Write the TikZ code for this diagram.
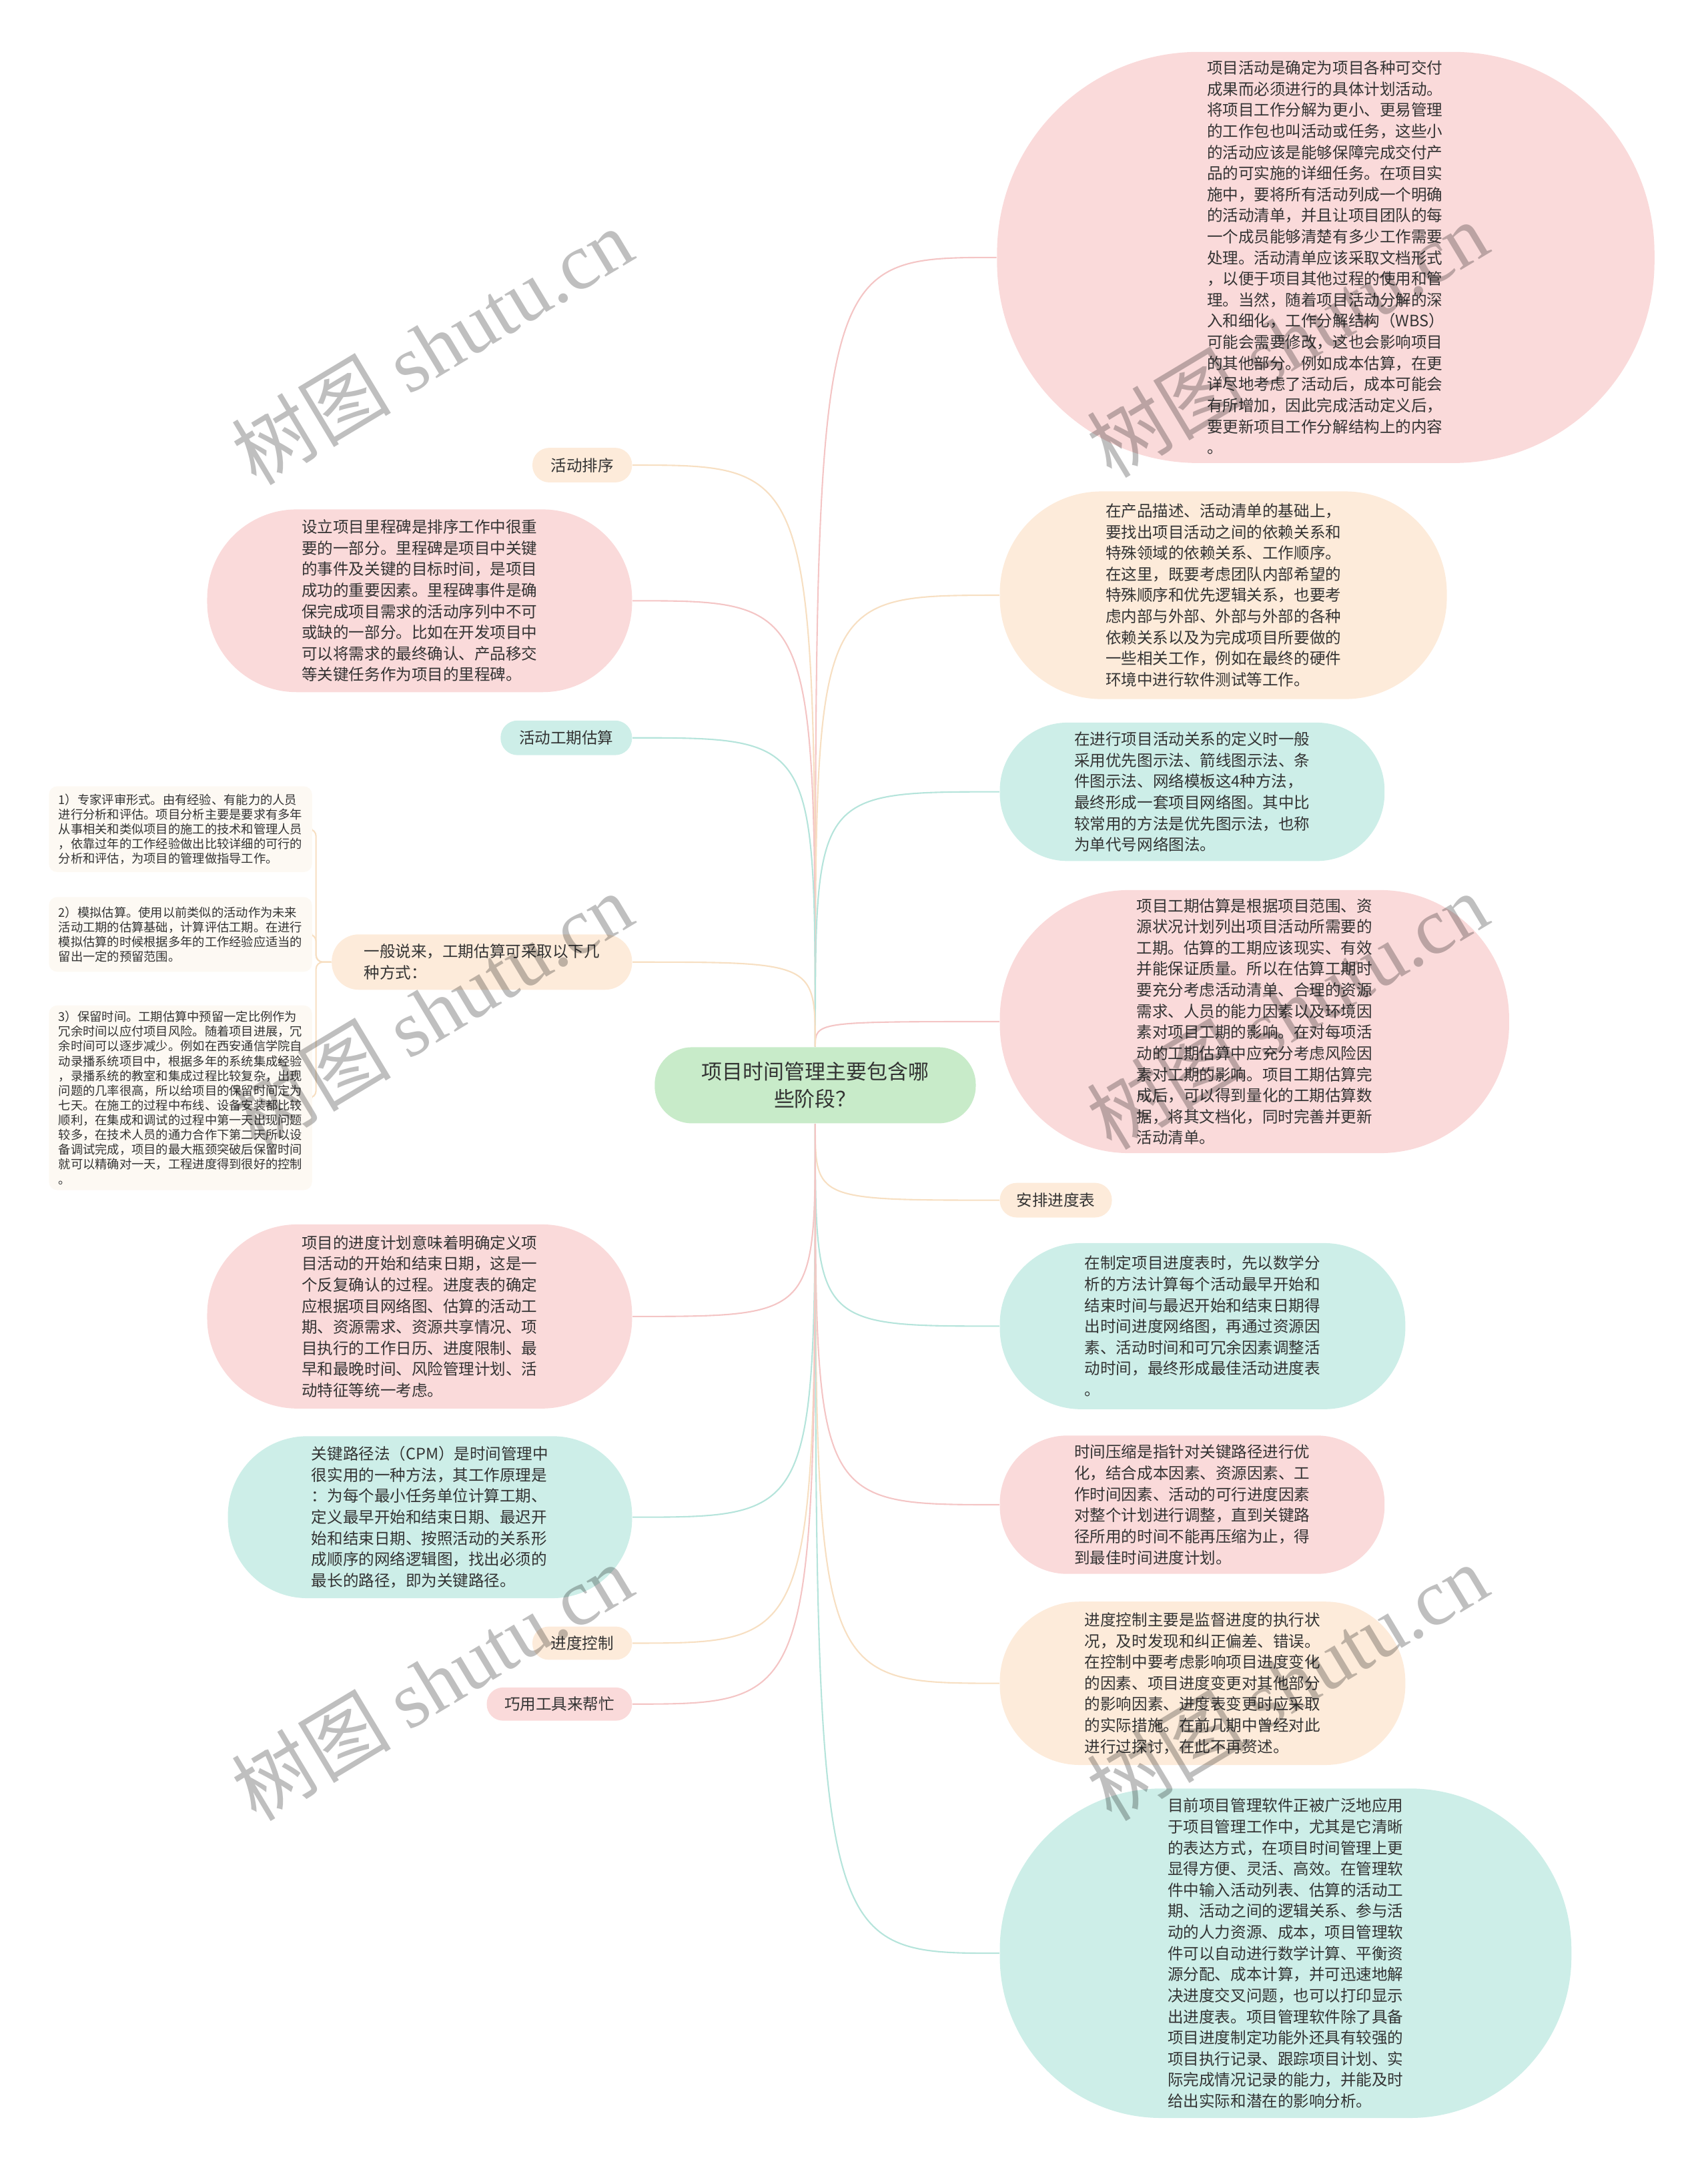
\documentclass[tikz,border=0pt]{standalone}
\usepackage{fontspec}
\setmainfont{Noto Sans CJK SC}
\newfontfamily\wmlatin{Liberation Serif}
\usetikzlibrary{positioning,backgrounds}

\newdimen\pxu
\pxu=0.0207455cm

\definecolor{ink}{HTML}{333333}
\definecolor{greenfill}{HTML}{C8EBC9}
\definecolor{pinkfill}{HTML}{FADADA}
\definecolor{peachfill}{HTML}{FDEBDA}
\definecolor{tealfill}{HTML}{CDEEE8}
\definecolor{notefill}{HTML}{FDF9F3}
\definecolor{pinkline}{HTML}{F4C5C5}
\definecolor{peachline}{HTML}{F7DFC2}
\definecolor{tealline}{HTML}{B5E4DB}

\tikzset{pill/.style 2 args = {rectangle, text=ink, inner sep=0pt, minimum width=#1*\pxu, minimum height=#2*\pxu, rounded corners=0.49*#2*\pxu},
         topic/.style = {pill={232}{55}, fill=greenfill, align=center, font=\fontsize{8.8}{11.8}\selectfont},
         bubble/.style = {align=left, font=\fontsize{6.7}{9}\selectfont},
         tag/.style = {font=\fontsize{6.7}{9}\selectfont},
         note/.style = {rectangle, rounded corners=6*\pxu, fill=notefill, text=ink, align=left, inner xsep=7*\pxu, inner ysep=4*\pxu, minimum width=187*\pxu, font=\fontsize{5.2}{6.3}\selectfont},
         link/.style = {line width=0.6pt},
         stamp/.style = {rotate=31, text=black, text opacity=0.25, font=\fontsize{34}{34}\selectfont},
}

\begin{document}
\begin{tikzpicture}[x=0.0207455cm, y=-0.0207455cm]
  \useasboundingbox (0,0) rectangle (1234,1567.6);

  \node[topic] (centre) at (589,784) {项目时间管理主要包含哪\\些阶段？};

  % right side
  \node[pill={475}{297}, bubble, fill=pinkfill, anchor=west] (actdef) at (720,186) {项目活动是确定为项目各种可交付\\成果而必须进行的具体计划活动。\\将项目工作分解为更小、更易管理\\的工作包也叫活动或任务，这些小\\的活动应该是能够保障完成交付产\\品的可实施的详细任务。在项目实\\施中，要将所有活动列成一个明确\\的活动清单，并且让项目团队的每\\一个成员能够清楚有多少工作需要\\处理。活动清单应该采取文档形式\\，以便于项目其他过程的使用和管\\理。当然，随着项目活动分解的深\\入和细化，工作分解结构（WBS）\\可能会需要修改，这也会影响项目\\的其他部分。例如成本估算，在更\\详尽地考虑了活动后，成本可能会\\有所增加，因此完成活动定义后，\\要更新项目工作分解结构上的内容\\。};
  \node[pill={323}{150}, bubble, fill=peachfill, anchor=west] (seqtxt) at (722,430) {在产品描述、活动清单的基础上，\\要找出项目活动之间的依赖关系和\\特殊领域的依赖关系、工作顺序。\\在这里，既要考虑团队内部希望的\\特殊顺序和优先逻辑关系，也要考\\虑内部与外部、外部与外部的各种\\依赖关系以及为完成项目所要做的\\一些相关工作，例如在最终的硬件\\环境中进行软件测试等工作。};
  \node[pill={278}{100}, bubble, fill=tealfill, anchor=west] (nettxt) at (722,572) {在进行项目活动关系的定义时一般\\采用优先图示法、箭线图示法、条\\件图示法、网络模板这4种方法，\\最终形成一套项目网络图。其中比\\较常用的方法是优先图示法，也称\\为单代号网络图法。};
  \node[pill={368}{190}, bubble, fill=pinkfill, anchor=west] (durtxt) at (722,738) {项目工期估算是根据项目范围、资\\源状况计划列出项目活动所需要的\\工期。估算的工期应该现实、有效\\并能保证质量。所以在估算工期时\\要充分考虑活动清单、合理的资源\\需求、人员的能力因素以及环境因\\素对项目工期的影响。在对每项活\\动的工期估算中应充分考虑风险因\\素对工期的影响。项目工期估算完\\成后，可以得到量化的工期估算数\\据，将其文档化，同时完善并更新\\活动清单。};
  \node[pill={81}{25}, tag, fill=peachfill, anchor=west] (schedule) at (722,867) {安排进度表};
  \node[pill={293}{120}, bubble, fill=tealfill, anchor=west] (schedtxt) at (722,958) {在制定项目进度表时，先以数学分\\析的方法计算每个活动最早开始和\\结束时间与最迟开始和结束日期得\\出时间进度网络图，再通过资源因\\素、活动时间和可冗余因素调整活\\动时间，最终形成最佳活动进度表\\。};
  \node[pill={278}{100}, bubble, fill=pinkfill, anchor=west] (crash) at (722,1087) {时间压缩是指针对关键路径进行优\\化，结合成本因素、资源因素、工\\作时间因素、活动的可行进度因素\\对整个计划进行调整，直到关键路\\径所用的时间不能再压缩为止，得\\到最佳时间进度计划。};
  \node[pill={293}{118}, bubble, fill=peachfill, anchor=west] (ctrltxt) at (722,1216) {进度控制主要是监督进度的执行状\\况，及时发现和纠正偏差、错误。\\在控制中要考虑影响项目进度变化\\的因素、项目进度变更对其他部分\\的影响因素、进度表变更时应采取\\的实际措施。在前几期中曾经对此\\进行过探讨，在此不再赘述。};
  \node[pill={413}{238}, bubble, fill=tealfill, anchor=west] (tooltxt) at (722,1411) {目前项目管理软件正被广泛地应用\\于项目管理工作中，尤其是它清晰\\的表达方式，在项目时间管理上更\\显得方便、灵活、高效。在管理软\\件中输入活动列表、估算的活动工\\期、活动之间的逻辑关系、参与活\\动的人力资源、成本，项目管理软\\件可以自动进行数学计算、平衡资\\源分配、成本计算，并可迅速地解\\决进度交叉问题，也可以打印显示\\出进度表。项目管理软件除了具备\\项目进度制定功能外还具有较强的\\项目执行记录、跟踪项目计划、实\\际完成情况记录的能力，并能及时\\给出实际和潜在的影响分析。};

  % left side
  \node[pill={72}{25}, tag, fill=peachfill, anchor=east] (sequence) at (457,336) {活动排序};
  \node[pill={307}{132}, bubble, fill=pinkfill, anchor=east] (milestone) at (457,434) {设立项目里程碑是排序工作中很重\\要的一部分。里程碑是项目中关键\\的事件及关键的目标时间，是项目\\成功的重要因素。里程碑事件是确\\保完成项目需求的活动序列中不可\\或缺的一部分。比如在开发项目中\\可以将需求的最终确认、产品移交\\等关键任务作为项目的里程碑。};
  \node[pill={95}{25}, tag, fill=tealfill, anchor=east] (duration) at (457,533) {活动工期估算};
  \node[pill={217}{40}, bubble, fill=peachfill, anchor=east] (methods) at (457,695) {一般说来，工期估算可采取以下几\\种方式：};
  \node[note, anchor=west, minimum height=62*\pxu] (way1) at (35,599) {1）专家评审形式。由有经验、有能力的人员\\进行分析和评估。项目分析主要是要求有多年\\从事相关和类似项目的施工的技术和管理人员\\，依靠过年的工作经验做出比较详细的可行的\\分析和评估，为项目的管理做指导工作。};
  \node[note, anchor=west, minimum height=54*\pxu] (way2) at (35,675) {2）模拟估算。使用以前类似的活动作为未来\\活动工期的估算基础，计算评估工期。在进行\\模拟估算的时候根据多年的工作经验应适当的\\留出一定的预留范围。};
  \node[note, anchor=west] (way3) at (35,793) {3）保留时间。工期估算中预留一定比例作为\\冗余时间以应付项目风险。随着项目进展，冗\\余时间可以逐步减少。例如在西安通信学院自\\动录播系统项目中，根据多年的系统集成经验\\，录播系统的教室和集成过程比较复杂，出现\\问题的几率很高，所以给项目的保留时间定为\\七天。在施工的过程中布线、设备安装都比较\\顺利，在集成和调试的过程中第一天出现问题\\较多，在技术人员的通力合作下第二天所以设\\备调试完成，项目的最大瓶颈突破后保留时间\\就可以精确对一天，工程进度得到很好的控制\\。};
  \node[pill={307}{133}, bubble, fill=pinkfill, anchor=east] (plantxt) at (457,951) {项目的进度计划意味着明确定义项\\目活动的开始和结束日期，这是一\\个反复确认的过程。进度表的确定\\应根据项目网络图、估算的活动工\\期、资源需求、资源共享情况、项\\目执行的工作日历、进度限制、最\\早和最晚时间、风险管理计划、活\\动特征等统一考虑。};
  \node[pill={292}{117}, bubble, fill=tealfill, anchor=east] (cpm) at (457,1096) {关键路径法（CPM）是时间管理中\\很实用的一种方法，其工作原理是\\：为每个最小任务单位计算工期、\\定义最早开始和结束日期、最迟开\\始和结束日期、按照活动的关系形\\成顺序的网络逻辑图，找出必须的\\最长的路径，即为关键路径。};
  \node[pill={72}{24}, tag, fill=peachfill, anchor=east] (control) at (457,1187) {进度控制};
  \node[pill={105}{24}, tag, fill=pinkfill, anchor=east] (tools) at (457,1231) {巧用工具来帮忙};

  \begin{scope}[on background layer]
    \draw[link, pinkline] (centre) .. controls (centre |- actdef.west) .. (actdef.west);
    \draw[link, peachline] (centre) .. controls (centre |- seqtxt.west) .. (seqtxt.west);
    \draw[link, tealline] (centre) .. controls (centre |- nettxt.west) .. (nettxt.west);
    \draw[link, pinkline] (centre) .. controls (centre |- durtxt.west) .. (durtxt.west);
    \draw[link, peachline] (centre) .. controls (centre |- schedule.west) .. (schedule.west);
    \draw[link, tealline] (centre) .. controls (centre |- schedtxt.west) .. (schedtxt.west);
    \draw[link, pinkline] (centre) .. controls (centre |- crash.west) .. (crash.west);
    \draw[link, peachline] (centre) .. controls (centre |- ctrltxt.west) .. (ctrltxt.west);
    \draw[link, tealline] (centre) .. controls (centre |- tooltxt.west) .. (tooltxt.west);

    \draw[link, peachline] (centre) .. controls (centre |- sequence.east) .. (sequence.east);
    \draw[link, pinkline] (centre) .. controls (centre |- milestone.east) .. (milestone.east);
    \draw[link, tealline] (centre) .. controls (centre |- duration.east) .. (duration.east);
    \draw[link, peachline] (centre) .. controls (centre |- methods.east) .. (methods.east);
    \draw[link, pinkline] (centre) .. controls (centre |- plantxt.east) .. (plantxt.east);
    \draw[link, tealline] (centre) .. controls (centre |- cpm.east) .. (cpm.east);
    \draw[link, peachline] (centre) .. controls (centre |- control.east) .. (control.east);
    \draw[link, pinkline] (centre) .. controls (centre |- tools.east) .. (tools.east);

    % bracket to the three ways
    \coordinate (fork) at ([xshift=-11*\pxu]methods.west);
    \draw[link, peachline, rounded corners=5*\pxu] (methods.west) -- (fork) |- (way1.east);
    \draw[link, peachline, rounded corners=5*\pxu] (methods.west) -- (fork) |- (way2.east);
    \draw[link, peachline, rounded corners=5*\pxu] (methods.west) -- (fork) |- (way3.east);
  \end{scope}

  % watermarks
  \node[stamp] (wm1) at (312,250) {树图 {\wmlatin shutu.cn}};
  \node[stamp] (wm2) at (930,245) {树图 {\wmlatin shutu.cn}};
  \node[stamp] (wm3) at (312,730) {树图 {\wmlatin shutu.cn}};
  \node[stamp] (wm4) at (930,730) {树图 {\wmlatin shutu.cn}};
  \node[stamp] (wm5) at (312,1215) {树图 {\wmlatin shutu.cn}};
  \node[stamp] (wm6) at (930,1215) {树图 {\wmlatin shutu.cn}};
\end{tikzpicture}
\end{document}
